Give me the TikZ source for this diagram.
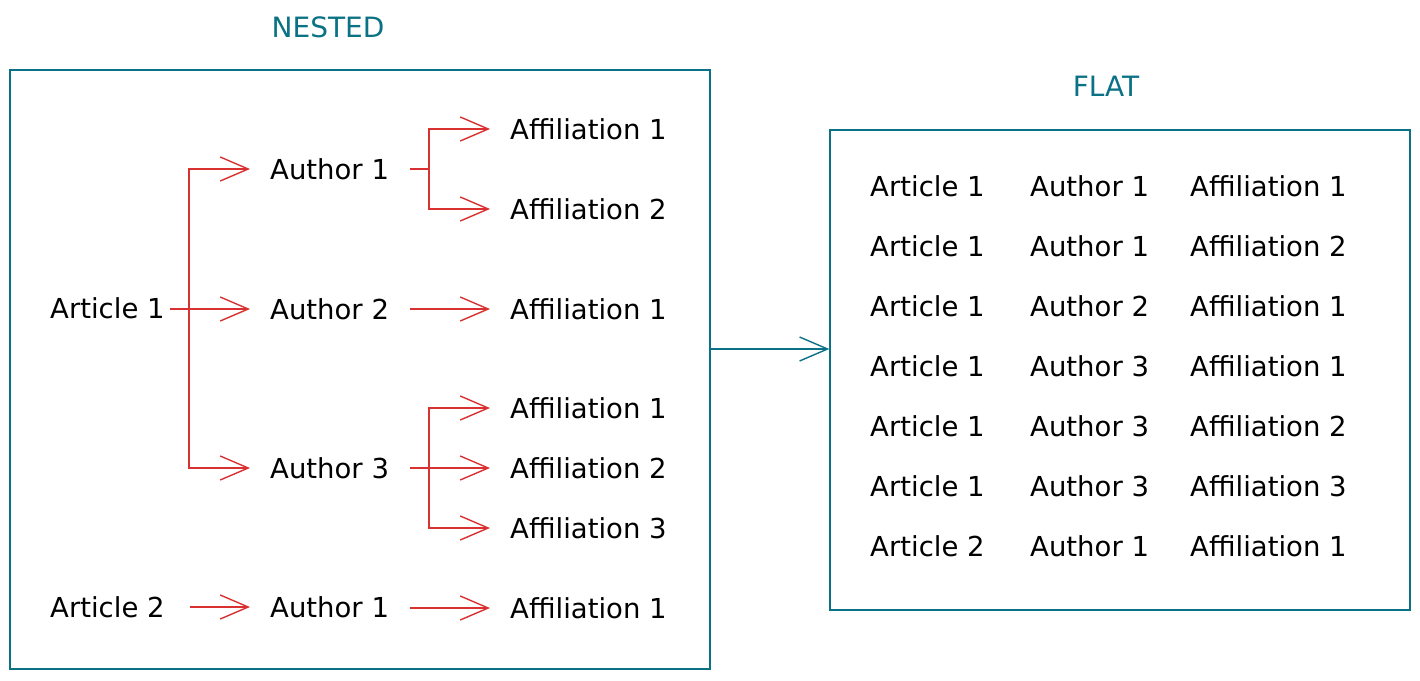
\documentclass[tikz,border=0pt]{standalone}
\usepackage{fontspec}
\setmainfont{DejaVu Sans}
\usetikzlibrary{arrows.meta}
\definecolor{teal1}{HTML}{0B7285}
\definecolor{red1}{HTML}{D93030}
\tikzset{
  x=1pt, y=-1pt,
  lbl/.style={anchor=west, inner sep=0pt, font=\fontsize{27.5}{32}\selectfont, text=black},
  ttl/.style={inner sep=0pt, font=\fontsize{28}{32}\selectfont, text=teal1},
  frame/.style={draw=teal1, line width=1.3pt, inner sep=0pt},
  rarr/.style={draw=red1, line width=1.4pt, -{Straight Barb[length=28pt,width=24pt]}, shorten >=20pt},
  rline/.style={draw=red1, line width=1.4pt},
  tarr/.style={draw=teal1, line width=1.4pt, -{Straight Barb[length=28pt,width=24pt]}}
}
\begin{document}
\begin{tikzpicture}
\useasboundingbox (0,0) rectangle (1420,680);
% frames
\node[frame, minimum width=700pt, minimum height=599pt] (nested) at (360,369.5) {};
\node[frame, minimum width=580pt, minimum height=480pt] (flat) at (1120,370) {};
\node[ttl] (tn) at (328,27) {NESTED};
\node[ttl] (tf) at (1106,86) {FLAT};
% nested labels
\node[lbl] (art1) at (50,308) {Article 1};
\node[lbl] (au1) at (270,169) {Author 1};
\node[lbl] (au2) at (270,309) {Author 2};
\node[lbl] (au3) at (270,468) {Author 3};
\node[lbl] (art2) at (50,607) {Article 2};
\node[lbl] (au4) at (270,607) {Author 1};
\node[lbl] (f11) at (510,129) {Affiliation 1};
\node[lbl] (f12) at (510,209) {Affiliation 2};
\node[lbl] (f21) at (510,309) {Affiliation 1};
\node[lbl] (f31) at (510,408) {Affiliation 1};
\node[lbl] (f32) at (510,468) {Affiliation 2};
\node[lbl] (f33) at (510,528) {Affiliation 3};
\node[lbl] (f41) at (510,608) {Affiliation 1};
% connector start and junction points
\coordinate (s0) at (170,309);
\coordinate (j0) at (189,309);
\coordinate (s1) at (410,169);
\coordinate (j1) at (429,169);
\coordinate (s2) at (410,309);
\coordinate (s3) at (410,468);
\coordinate (j3) at (429,468);
\coordinate (s4) at (190,607);
\coordinate (s5) at (410,608);
% red connectors
\draw[rarr] (s0) -- (au2.west);
\draw[rarr] (j0) |- (au1.west);
\draw[rarr] (j0) |- (au3.west);
\draw[rline] (s1) -- (j1);
\draw[rarr] (j1) |- (f11.west);
\draw[rarr] (j1) |- (f12.west);
\draw[rarr] (s2) -- (f21.west);
\draw[rarr] (s3) -- (f32.west);
\draw[rarr] (j3) |- (f31.west);
\draw[rarr] (j3) |- (f33.west);
\draw[rarr] (s4) -- (au4.west);
\draw[rarr] (s5) -- (f41.west);
% teal connector
\draw[tarr] ([yshift=20.5pt]nested.east) -- ([yshift=21pt]flat.west);
% flat table
\foreach \i/\a/\b/\c in {1/Article 1/Author 1/Affiliation 1,
                         2/Article 1/Author 1/Affiliation 2,
                         3/Article 1/Author 2/Affiliation 1,
                         4/Article 1/Author 3/Affiliation 1,
                         5/Article 1/Author 3/Affiliation 2,
                         6/Article 1/Author 3/Affiliation 3,
                         7/Article 2/Author 1/Affiliation 1}{
  \node[lbl] (ta\i) at (870,{126+60*\i}) {\a};
  \node[lbl] (tb\i) at (1030,{126+60*\i}) {\b};
  \node[lbl] (tc\i) at (1190,{126+60*\i}) {\c};
}
\end{tikzpicture}
\end{document}
